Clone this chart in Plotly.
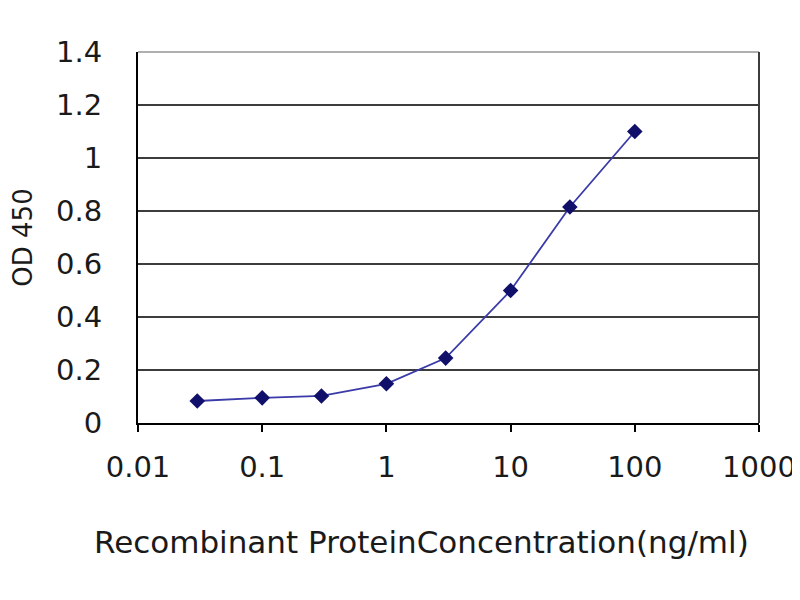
import plotly.graph_objects as go

# concentration (ng/ml) and OD 450 readings
conc = [0.03, 0.1, 0.3, 1, 3, 10, 30, 100]
od450 = [0.083, 0.095, 0.102, 0.148, 0.245, 0.50, 0.815, 1.10]

x_ticks = [0.01, 0.1, 1, 10, 100, 1000]
x_ticktext = ["0.01", "0.1", "1", "10", "100", "1000"]
y_ticks = [0, 0.2, 0.4, 0.6, 0.8, 1.0, 1.2, 1.4]
y_ticktext = ["0", "0.2", "0.4", "0.6", "0.8", "1", "1.2", "1.4"]

fig = go.Figure(go.Scatter(x=conc, y=od450, mode="lines+markers",
                           line=dict(color="#3a3aa8", width=1.8),
                           marker=dict(symbol="diamond", size=12, color="#10106a")))

fig.update_layout(width=800, height=600, paper_bgcolor="white", plot_bgcolor="white",
                  margin=dict(l=125, r=42, t=44, b=185), showlegend=False,
                  font=dict(family="DejaVu Sans", size=29, color="#1a1a1a"))

fig.update_xaxes(type="log", range=[-2, 3], tickvals=x_ticks, ticktext=x_ticktext,
                 showgrid=False, showline=True, linecolor="black", linewidth=2,
                 ticks="outside", ticklen=7, tickwidth=2, tickcolor="black",
                 ticklabelstandoff=10, zeroline=False)
fig.update_yaxes(range=[0, 1.4], tickvals=y_ticks, ticktext=y_ticktext,
                 showgrid=True, gridcolor="#3c3c3c", gridwidth=2,
                 showline=True, linecolor="black", linewidth=2,
                 ticks="", ticklabelstandoff=28,
                 title=dict(text="OD 450", standoff=18, font=dict(size=26)),
                 zeroline=False)

# x axis title sits a little left of the plot centre
fig.add_annotation(text="Recombinant ProteinConcentration(ng/ml)", xref="paper", yref="paper",
                   x=0.456, y=0, xanchor="center", yanchor="middle", yshift=-119,
                   showarrow=False, font=dict(size=31))

# frame: light top edge, dark right edge
fig.add_shape(type="line", xref="paper", yref="paper", x0=0, x1=1, y0=1, y1=1,
              line=dict(color="#b0b0b0", width=2))
fig.add_shape(type="line", xref="paper", yref="paper", x0=1, x1=1, y0=0, y1=1,
              line=dict(color="#3c3c3c", width=2))

fig.write_html("out.html")
